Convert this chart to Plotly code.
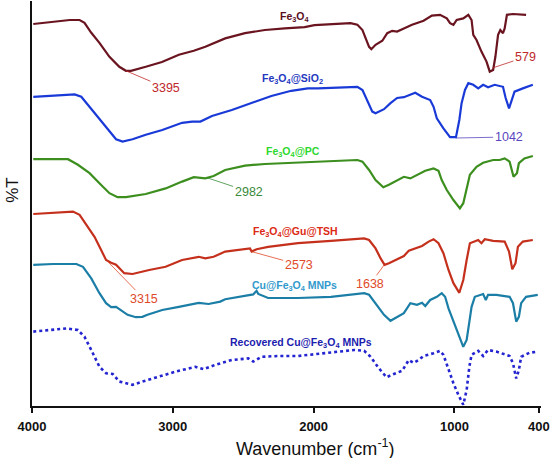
import plotly.graph_objects as go

# ---------------- data (wavenumber in cm-1, stacked %T offsets) ----------------
fe3o4_x = [3991, 3850, 3732, 3662, 3627, 3579, 3521, 3450, 3380, 3333, 3297, 3192, 3077, 2957, 2851, 2769,
           2628, 2487, 2346, 2205, 2064, 1994, 1879, 1738, 1689, 1653, 1630, 1606, 1590, 1560, 1512, 1477,
           1442, 1407, 1359, 1301, 1219, 1160, 1102, 1054, 1031, 1007, 984, 937, 901, 878, 866, 843, 808,
           772, 749, 725, 709, 690, 674, 655, 643, 627, 584, 491]
fe3o4_y = [95.5, 96, 96.5, 96.5, 95.8, 93.3, 90.8, 87.3, 84.8, 83.8, 83.8, 84.8, 86, 87.8, 88.8, 89.8,
           91.9, 93.2, 94, 94.4, 94.7, 95.2, 95.5, 95.7, 95.3, 94, 91.9, 89.8, 89.2, 90.3, 91.3, 93.2,
           93.8, 93.6, 94.4, 95.3, 96.3, 97.6, 97.8, 96.9, 95.7, 95.3, 96.5, 96.9, 97.8, 96.5, 92.8, 91.5, 88.6,
           86.1, 83.6, 84, 87.3, 92.8, 94, 93.2, 94.4, 97.8, 98, 97.8]

sio2_x = [3991, 3850, 3697, 3650, 3591, 3521, 3450, 3403, 3357, 3286, 3192, 3075, 2934, 2863, 2804, 2722,
          2581, 2440, 2300, 2159, 2041, 1970, 1689, 1653, 1618, 1583, 1560, 1500, 1454, 1407, 1359, 1313,
          1278, 1230, 1172, 1148, 1125, 1078, 1031, 989, 965, 949, 925, 901, 866, 831, 796, 761, 714, 655,
          636, 612, 596, 573, 514, 443]
sio2_y = [77.3, 77.6, 77.9, 77.3, 74.8, 71.9, 68.6, 66.7, 66.1, 66.7, 67.8, 69, 70.8, 71.1, 71.1, 72.5,
          74, 75.7, 77.5, 78.8, 79.4, 79.4, 79.8, 79, 76.1, 73.6, 73.2, 74.2, 75.7, 77, 77.2, 77.8,
          78.3, 77.3, 76.5, 74.8, 71.9, 69.4, 67.2, 67.2, 71.5, 75.7, 79, 80.7, 80.3, 79.4, 80.3, 79.7, 80.3, 79.8,
          77, 74.4, 76.1, 78.6, 79.4, 80.3]

pc_x = [3991, 3850, 3744, 3674, 3591, 3521, 3450, 3392, 3333, 3192, 3051, 2934, 2851, 2769, 2710, 2628,
        2487, 2346, 2205, 2064, 1877, 1689, 1653, 1606, 1560, 1505, 1465, 1419, 1359, 1313, 1266, 1207,
        1148, 1113, 1090, 1054, 1007, 961, 937, 913, 890, 843, 796, 725, 679, 643, 608, 580, 556, 542, 503, 443]
pc_y = [61.7, 61.7, 61.7, 60.3, 58.2, 55.7, 53.2, 52.2, 52.2, 53, 54.4, 56.1, 57.2, 56.9, 57.5, 59,
        60.1, 60.5, 60.7, 60.9, 61.3, 61.5, 61.1, 59, 56.5, 54.7, 55.3, 56.1, 57.3, 56.9, 57.8, 58.8,
        59.4, 58.8, 56.5, 54, 51.5, 49.4, 50.7, 54.8, 57.8, 59.8, 60.8, 61.5, 61.5, 61.9, 61.1, 57.3, 58.2, 60.7, 61.9, 62.5]

tsh_x = [3991, 3850, 3709, 3662, 3615, 3556, 3509, 3474, 3438, 3403, 3345, 3286, 3168, 3051, 2934, 2816,
         2769, 2710, 2628, 2487, 2452, 2440, 2405, 2323, 2252, 2111, 1877, 1641, 1606, 1560, 1524, 1496,
         1465, 1419, 1359, 1324, 1278, 1230, 1183, 1148, 1113, 1078, 1042, 1007, 965, 937, 913, 890, 831,
         808, 784, 725, 643, 612, 589, 566, 549, 514, 443]
tsh_y = [48, 48.3, 48.6, 47.8, 45.3, 42.3, 39, 36.5, 35.8, 35.3, 33.2, 33, 34, 34.8, 36.5, 37.3,
         36.9, 37.3, 38.6, 39.2, 39.4, 38.6, 39.2, 39.8, 40.1, 40.7, 41.3, 41.9, 41.5, 39.4, 36.9, 35.3,
         35.7, 36.5, 37.5, 38.8, 39.4, 40, 41.1, 41.7, 40.7, 38.2, 34, 30.7, 28.3, 31.5, 36.5, 40.7, 41.5,
         40.7, 41.7, 41.3, 41.1, 38.6, 34.2, 35.7, 39.8, 41.1, 41.5]

cu_x = [3991, 3850, 3685, 3638, 3579, 3521, 3474, 3438, 3403, 3368, 3321, 3262, 3216, 3180, 3075, 2957,
        2816, 2746, 2663, 2628, 2534, 2429, 2405, 2393, 2323, 2111, 1877, 1641, 1606, 1560, 1500, 1454,
        1407, 1359, 1313, 1266, 1230, 1207, 1172, 1125, 1090, 1066, 1042, 1007, 972, 937, 913, 894, 878,
        855, 796, 777, 761, 702, 608, 584, 561, 542, 526, 491, 408]
cu_y = [35.3, 35.5, 35.5, 34.8, 31.9, 28.2, 25.7, 24.7, 24.8, 24, 22.8, 22.2, 22.3, 22.8, 24, 24.8,
        25.8, 25.5, 26.1, 26.7, 27.3, 27.9, 28.8, 28, 27, 27, 27.3, 28.2, 27.8, 25.7, 22.8, 21.3,
        22.3, 23.2, 25.7, 25.3, 25.8, 25, 26.5, 27.3, 28.2, 27.3, 24.4, 21.1, 17.8, 14.8, 16.5, 20.7, 24.8,
        27.3, 28, 26.5, 27.8, 27.8, 27.3, 25.7, 21.1, 22.3, 25.7, 27.3, 27.8]

rec_x = [3991, 3873, 3755, 3674, 3627, 3579, 3521, 3474, 3427, 3380, 3286, 3216, 3098, 2980, 2839, 2781,
         2698, 2581, 2464, 2429, 2370, 2252, 2111, 1877, 1712, 1641, 1595, 1536, 1482, 1430, 1371, 1324,
         1289, 1254, 1219, 1148, 1102, 1078, 1042, 1007, 972, 937, 913, 894, 878, 831, 796, 761, 702,
         608, 584, 561, 542, 526, 467, 408]
rec_y = [18.6, 19, 19.4, 19, 17.3, 14, 9.8, 8.2, 8, 6.1, 5.3, 6.1, 7.3, 8.6, 9.8, 9.2,
         10.3, 11.5, 11.9, 11.1, 12.3, 12.5, 12.5, 13.3, 14, 13.8, 12.3, 9.4, 7.2, 8, 8.8, 11.5,
         10.8, 11.5, 12.5, 13.2, 13.8, 12.8, 9, 5.7, 2.8, 0.3, 4, 9.8, 12.8, 13.8, 12.5, 14, 13.6,
         12.5, 10.7, 6.9, 9, 12.3, 13.3, 13.6]

series_names = ["Fe<sub>3</sub>O<sub>4</sub>", "Fe<sub>3</sub>O<sub>4</sub>@SiO<sub>2</sub>",
                "Fe<sub>3</sub>O<sub>4</sub>@PC", "Fe<sub>3</sub>O<sub>4</sub>@Gu@TSH",
                "Cu@Fe<sub>3</sub>O<sub>4</sub> MNPs", "Recovered Cu@Fe<sub>3</sub>O<sub>4</sub> MNPs"]
# label anchor positions (wavenumber, %T)
label_x = [2135, 2147, 2147, 2126, 2135, 2090]
label_y = [97.3, 81.75, 63.6, 43.6, 30.0, 15.7]

# peak annotations: text, peak wavenumber, peak %T
peak_text = ["3395", "579", "1042", "2982", "2573", "1638", "3315"]
peak_x = [3333, 730, 991, 2760, 2440, 1498, 3462]
peak_y = [83.8, 84.5, 67.0, 57.1, 38.6, 35.3, 36.1]

tick_vals = [4000, 3000, 2000, 1000, 400]
tick_text = ["4000", "3000", "2000", "1000", "400"]

# ---------------- styling ----------------
line_colors = ["#6a1420", "#1a3ad8", "#3c8f1e", "#c4301c", "#1b7ea6", "#2424d0"]
label_colors = ["#5a0f1e", "#2438c0", "#2ed82e", "#dc2a14", "#3399cc", "#1c1cae"]
peak_colors = ["#c0282a", "#c0282a", "#5a46c0", "#3a8a3a", "#e04a2a", "#e04a2a", "#e04a2a"]
peak_offsets = [(40, 17), (33, -11), (53, -1), (42, 14), (47, 13), (-14, 19), (36, 37)]

xs = [fe3o4_x, sio2_x, pc_x, tsh_x, cu_x, rec_x]
ys = [fe3o4_y, sio2_y, pc_y, tsh_y, cu_y, rec_y]

fig = go.Figure()
for i in range(6):
    fig.add_trace(go.Scatter(
        x=xs[i], y=ys[i], mode="lines", name=series_names[i],
        line=dict(color=line_colors[i], width=2.6 if i == 5 else 2.2,
                  dash="dot" if i == 5 else "solid"),
        showlegend=False, hoverinfo="skip"))

for i in range(6):
    fig.add_annotation(x=label_x[i], y=label_y[i], text="<b>" + series_names[i] + "</b>",
                       showarrow=False, font=dict(family="Liberation Sans, Arial", size=10.5,
                                                  color=label_colors[i]))

for i in range(len(peak_text)):
    fig.add_annotation(x=peak_x[i], y=peak_y[i], text=peak_text[i], showarrow=True,
                       arrowhead=0, arrowwidth=0.8, arrowcolor=peak_colors[i],
                       ax=peak_offsets[i][0], ay=peak_offsets[i][1],
                       font=dict(family="Liberation Sans, Arial", size=12.5, color=peak_colors[i]))

# axis titles as annotations
fig.add_annotation(xref="paper", yref="paper", x=0.5575, y=-0.102, xanchor="center", yanchor="middle",
                   text="Wavenumber (cm<sup>-1</sup>)", showarrow=False,
                   font=dict(family="Liberation Sans, Arial", size=18, color="#111111"))
fig.add_annotation(xref="paper", yref="paper", x=-0.04, y=0.533, xanchor="center", yanchor="middle",
                   textangle=-90, text="%T", showarrow=False,
                   font=dict(family="Liberation Sans, Arial", size=17, color="#111111"))

fig.update_xaxes(range=[4000, 385], tickvals=tick_vals, ticktext=tick_text,
                 showgrid=False, zeroline=False, showline=True, linecolor="#111111", linewidth=2,
                 ticks="outside", ticklen=5, tickwidth=1.5, tickcolor="#111111",
                 tickfont=dict(family="Liberation Sans, Arial", size=13, color="#111111", weight="bold"),
                 ticklabelstandoff=2, ticklabeloverflow="allow")
fig.update_yaxes(range=[0, 101.25], showgrid=False, zeroline=False, showline=True,
                 linecolor="#111111", linewidth=2, showticklabels=False, ticks="")

fig.update_layout(width=551, height=458, margin=dict(l=32, r=6, t=1, b=52),
                  plot_bgcolor="white", paper_bgcolor="white")

fig.write_html("out.html", config={"displayModeBar": False},
               post_script="document.body.style.margin='0';")
